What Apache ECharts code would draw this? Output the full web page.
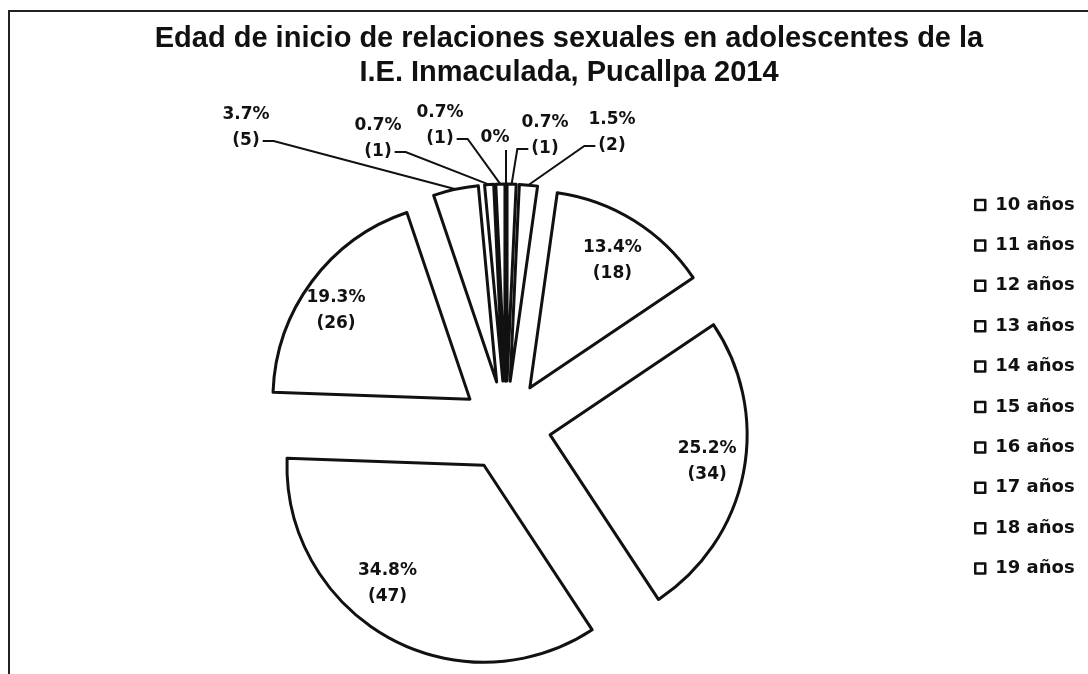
<!DOCTYPE html>
<html>
<head>
<meta charset="utf-8">
<script src="https://cdn.jsdelivr.net/npm/echarts@6/dist/echarts.min.js"></script>
<style>
  html, body { margin: 0; padding: 0; background: #fff; }
  #wrap { position: relative; width: 1088px; height: 674px; overflow: hidden; }
  #chart { width: 1088px; height: 674px; }
  #frame { position: absolute; left: 8px; top: 10px; width: 1100px; height: 700px;
           border-left: 2px solid #222; border-top: 2px solid #222; pointer-events: none; }
</style>
</head>
<body>
<div id="wrap">
  <div id="chart"></div>
  <div id="frame"></div>
</div>
<script>
// data, clockwise from 12 o'clock
const ages = ['10 años', '11 años', '12 años', '13 años', '14 años',
              '15 años', '16 años', '17 años', '18 años', '19 años'];
const counts = [0, 1, 2, 18, 34, 47, 26, 5, 1, 1];
const percentLabels = ['0%', '0.7%', '1.5%', '13.4%', '25.2%', '34.8%', '19.3%', '3.7%', '0.7%', '0.7%'];

// where the small slices put their labels (layout only)
const outerLabelPos = {
  0: [495, 138],
  1: [545, 136],
  2: [612, 133],
  7: [246, 128],
  8: [378, 139],
  9: [440, 126]
};
// small nudges for the labels drawn inside the big slices
const innerLabelShift = {
  3: [2, 2],
  4: [8, -3],
  5: [-22, -14],
  6: [-12, 2]
};

const chart = echarts.init(document.getElementById('chart'));

const pieCenter = [506, 426];
const pieRadius = 197;
const explode = 45;

const labelFont = {
  fontFamily: 'DejaVu Sans',
  fontWeight: 'bold',
  fontSize: 17,
  color: '#111'
};

const measureCtx = document.createElement('canvas').getContext('2d');
measureCtx.font = 'bold 17px "DejaVu Sans"';

function labelText(p) {
  const i = p.dataIndex;
  if (counts[i] === 0) return percentLabels[i];
  return percentLabels[i] + '\n(' + counts[i] + ')';
}

// leader line: from the slice edge to the side of the "(n)" line
function leaderPoints(i, pos, anchor) {
  if (counts[i] === 0) {
    return [[anchor[0], anchor[1]], [anchor[0], pos[1] + 20], [anchor[0], pos[1] + 12]];
  }
  const w = measureCtx.measureText('(' + counts[i] + ')').width;
  const y = pos[1] + 13;
  if (pos[0] < anchor[0]) {
    const x = pos[0] + w / 2 + 3;
    return [[anchor[0], anchor[1]], [x + 11, y], [x, y]];
  }
  const x = pos[0] - w / 2 - 3;
  return [[anchor[0], anchor[1]], [x - 11, y], [x, y]];
}

const option = {
  animation: false,
  backgroundColor: '#fff',
  title: {
    text: 'Edad de inicio de relaciones sexuales en adolescentes de la\nI.E. Inmaculada, Pucallpa 2014',
    left: 569,
    top: 22,
    padding: 0,
    textAlign: 'center',
    textStyle: {
      fontFamily: 'Liberation Sans',
      fontWeight: 'bold',
      fontSize: 29,
      lineHeight: 34,
      color: '#111'
    }
  },
  legend: {
    orient: 'vertical',
    left: 974,
    top: 196,
    padding: 0,
    itemWidth: 10,
    itemHeight: 10,
    itemGap: 22.4,
    icon: 'rect',
    data: ages,
    itemStyle: { color: '#fff', borderColor: '#111', borderWidth: 2.5 },
    textStyle: {
      fontFamily: 'DejaVu Sans',
      fontWeight: 'bold',
      fontSize: 18,
      lineHeight: 18,
      color: '#111',
      padding: [0, 0, 0, 5]
    }
  },
  series: [
    {
      // the slices, pulled out from the centre
      type: 'pie',
      center: pieCenter,
      radius: [0, pieRadius],
      startAngle: 90,
      clockwise: true,
      selectedMode: 'multiple',
      selectedOffset: explode,
      avoidLabelOverlap: false,
      label: { show: false },
      labelLine: { show: false },
      itemStyle: { color: '#fff', borderColor: '#111', borderWidth: 3 },
      emphasis: { disabled: true },
      data: ages.map((a, i) => ({ name: a, value: counts[i], selected: true }))
    },
    {
      // invisible ring that carries the labels
      type: 'pie',
      center: pieCenter,
      radius: [146, pieRadius + explode],
      startAngle: 90,
      clockwise: true,
      silent: true,
      selectedMode: false,
      avoidLabelOverlap: false,
      itemStyle: { color: 'rgba(0,0,0,0)', borderWidth: 0 },
      emphasis: { disabled: true },
      label: Object.assign({ formatter: labelText, lineHeight: 26 }, labelFont),
      labelLine: {
        lineStyle: { color: '#111', width: 2 },
        length: 20,
        length2: 15
      },
      labelLayout: function (params) {
        const i = params.dataIndex;
        const pos = outerLabelPos[i];
        if (!pos) return {};
        const res = { x: pos[0], y: pos[1], align: 'center', verticalAlign: 'middle' };
        if (params.labelLinePoints && params.labelLinePoints.length) {
          res.labelLinePoints = leaderPoints(i, pos, params.labelLinePoints[0]);
        }
        return res;
      },
      data: ages.map((a, i) => {
        const outer = outerLabelPos[i] !== undefined;
        return {
          name: a,
          value: counts[i],
          label: outer
            ? { position: 'outside' }
            : { position: 'inside', offset: innerLabelShift[i] },
          labelLine: { show: outer }
        };
      })
    }
  ]
};

chart.setOption(option);
</script>
</body>
</html>
